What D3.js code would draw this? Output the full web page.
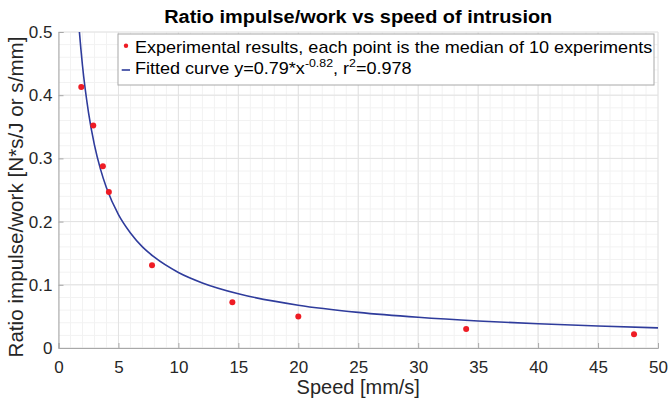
<!DOCTYPE html>
<html>
<head>
<meta charset="utf-8">
<script src="https://cdn.jsdelivr.net/npm/d3@7"></script>
<style>
  body { margin: 0; background: #fff; }
  svg { display: block; font-family: "Liberation Sans", Arial, sans-serif; }
</style>
</head>
<body>
<svg id="chart" width="668" height="402"></svg>
<script>
// measured points (speed, ratio)
const speed = [1.9, 2.9, 3.7, 4.2, 7.8, 14.5, 20, 34, 48];
const ratio = [0.413, 0.352, 0.2875, 0.247, 0.131, 0.0725, 0.050, 0.030, 0.0218];

// fitted curve
const fitX = [1.5, 1.7, 2, 2.5, 3, 3.5, 4, 5, 6, 7, 8, 10, 12, 15, 20, 25, 30, 35, 40, 45, 50];
const fitY = [0.567, 0.511, 0.447, 0.373, 0.321, 0.283, 0.2535, 0.211, 0.182, 0.160, 0.1436, 0.1195,
              0.103, 0.0858, 0.0677, 0.0564, 0.0486, 0.0428, 0.0384, 0.0349, 0.0319];

const xTicks = [0, 5, 10, 15, 20, 25, 30, 35, 40, 45, 50];
const yTicks = [0, 0.1, 0.2, 0.3, 0.4, 0.5];
const legendLabels = ["Experimental results, each point is the median of 10 experiments", "Fitted curve"];

const svg = d3.select("#chart");

const x = d3.scaleLinear().domain([0, 50]).range([58.5, 658]);
const y = d3.scaleLinear().domain([0, 0.5]).range([348, 32]);

const axisGray = "#a8a8a8";
const blue = "#2f3c9c";
const red = "#ee1c24";

// minor grid
const minorX = d3.range(0, 51, 1);
const minorY = d3.range(0, 0.501, 0.02);
svg.append("g").selectAll("line").data(minorX).join("line")
    .attr("x1", d => x(d)).attr("x2", d => x(d))
    .attr("y1", y(0)).attr("y2", y(0.5))
    .attr("stroke", "#f2f2f2").attr("stroke-width", 1);
svg.append("g").selectAll("line").data(minorY).join("line")
    .attr("y1", d => y(d)).attr("y2", d => y(d))
    .attr("x1", x(0)).attr("x2", x(50))
    .attr("stroke", "#f2f2f2").attr("stroke-width", 1);

// major grid
svg.append("g").selectAll("line").data(xTicks).join("line")
    .attr("x1", d => x(d)).attr("x2", d => x(d))
    .attr("y1", y(0)).attr("y2", y(0.5))
    .attr("stroke", "#e2e2e2").attr("stroke-width", 1);
svg.append("g").selectAll("line").data(yTicks).join("line")
    .attr("y1", d => y(d)).attr("y2", d => y(d))
    .attr("x1", x(0)).attr("x2", x(50))
    .attr("stroke", "#e2e2e2").attr("stroke-width", 1);

// axes
const xAxis = svg.append("g")
    .attr("transform", `translate(0,${y(0)})`)
    .call(d3.axisBottom(x).tickValues(xTicks).tickSize(-5).tickPadding(13).tickFormat(d3.format("d")));
const yAxis = svg.append("g")
    .attr("transform", `translate(${x(0)},0)`)
    .call(d3.axisLeft(y).tickValues(yTicks).tickSize(-5).tickPadding(6).tickFormat(d => d === 0 ? "0" : d3.format(".1f")(d)));
[xAxis, yAxis].forEach(a => {
    a.select(".domain").attr("stroke", axisGray);
    a.selectAll(".tick line").attr("stroke", axisGray);
    a.selectAll(".tick text").attr("fill", "#262626")
        .style("font-size", "17px").style("font-family", "Liberation Sans, Arial, sans-serif");
});

// clip
svg.append("clipPath").attr("id", "plotclip")
  .append("rect").attr("x", x(0)).attr("y", y(0.5)).attr("width", x(50) - x(0)).attr("height", y(0) - y(0.5));

const line = d3.line().x(d => x(d[0])).y(d => y(d[1])).curve(d3.curveMonotoneX);
svg.append("path")
    .datum(d3.zip(fitX, fitY))
    .attr("clip-path", "url(#plotclip)")
    .attr("d", line)
    .attr("fill", "none")
    .attr("stroke", blue)
    .attr("stroke-width", 1.6);

svg.append("g").selectAll("circle").data(d3.zip(speed, ratio)).join("circle")
    .attr("cx", d => x(d[0])).attr("cy", d => y(d[1]))
    .attr("r", 3)
    .attr("fill", red);

// title and axis labels
svg.append("text")
    .attr("x", (x(0) + x(50)) / 2).attr("y", 22.7)
    .attr("text-anchor", "middle")
    .attr("textLength", 388).attr("lengthAdjust", "spacingAndGlyphs")
    .style("font-size", "18.7px").style("font-weight", "bold")
    .attr("fill", "#000")
    .text("Ratio impulse/work vs speed of intrusion");

svg.append("text")
    .attr("x", (x(0) + x(50)) / 2).attr("y", 394)
    .attr("text-anchor", "middle")
    .style("font-size", "20px")
    .attr("fill", "#262626")
    .text("Speed [mm/s]");

svg.append("text")
    .attr("transform", `translate(23,197) rotate(-90)`)
    .attr("text-anchor", "middle")
    .attr("textLength", 321).attr("lengthAdjust", "spacingAndGlyphs")
    .style("font-size", "19.5px")
    .attr("fill", "#262626")
    .text("Ratio impulse/work [N*s/J or s/mm]");

// legend
const lg = svg.append("g");
lg.append("rect").attr("x", 118).attr("y", 34).attr("width", 536).attr("height", 51)
    .attr("fill", "#fff").attr("stroke", axisGray).attr("stroke-width", 1);
lg.append("circle").attr("cx", 126).attr("cy", 45.7).attr("r", 2.2).attr("fill", red);
lg.append("line").attr("x1", 121.7).attr("x2", 130).attr("y1", 70).attr("y2", 70)
    .attr("stroke", blue).attr("stroke-width", 1.6);

const t1 = lg.append("text").attr("x", 135).attr("y", 52.7)
    .style("font-size", "16.8px").attr("fill", "#000")
    .text(legendLabels[0]);
const t2 = lg.append("text").attr("x", 135).attr("y", 74.3)
    .style("font-size", "16.8px").attr("fill", "#000");
t2.append("tspan").text(legendLabels[1] + " y=0.79*x");
t2.append("tspan").attr("dy", -7).style("font-size", "11.5px").text("-0.82");
t2.append("tspan").attr("dy", 7).text(", r");
t2.append("tspan").attr("dy", -7).style("font-size", "11.5px").text("2");
t2.append("tspan").attr("dy", 7).text("=0.978");

// stretch legend text horizontally to the reference width
const k = 517 / t1.node().getComputedTextLength();
[t1, t2].forEach(t => t.attr("transform", `translate(135,0) scale(${k},1) translate(-135,0)`));
</script>
</body>
</html>
